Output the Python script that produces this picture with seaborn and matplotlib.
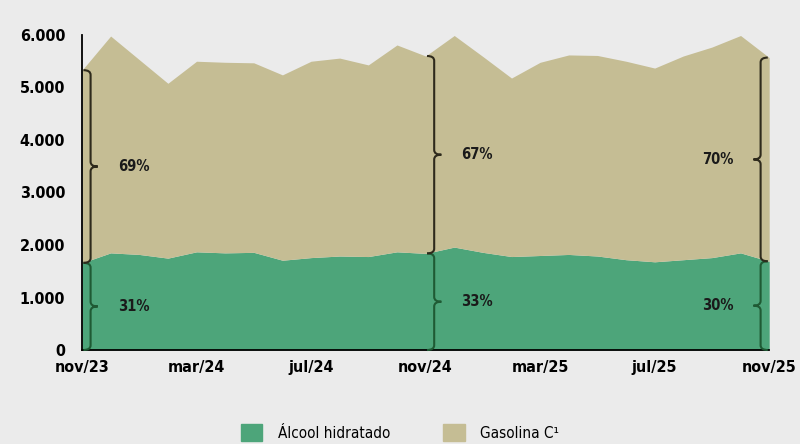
import numpy as np
import pandas as pd
import matplotlib
matplotlib.use("Agg")
import matplotlib.pyplot as plt
from matplotlib.path import Path
import matplotlib.patches as mpatches
import seaborn as sns

# monthly sales, nov/23 .. nov/25 (thousand m3)
months = ["nov/23", "dez/23", "jan/24", "fev/24", "mar/24", "abr/24", "mai/24",
          "jun/24", "jul/24", "ago/24", "set/24", "out/24", "nov/24", "dez/24",
          "jan/25", "fev/25", "mar/25", "abr/25", "mai/25", "jun/25", "jul/25",
          "ago/25", "set/25", "out/25", "nov/25"]
alcool = [1660, 1850, 1820, 1750, 1870, 1850, 1860, 1710, 1760, 1790, 1780, 1870,
          1840, 1960, 1860, 1780, 1800, 1820, 1790, 1720, 1680, 1720, 1760, 1850, 1690]
total = [5330, 5980, 5530, 5080, 5500, 5480, 5470, 5240, 5500, 5560, 5430, 5810,
         5600, 5990, 5590, 5180, 5480, 5620, 5610, 5500, 5370, 5600, 5770, 5990, 5570]
gasolina = [t - a for t, a in zip(total, alcool)]

tick_pos = [0, 4, 8, 12, 16, 20, 24]
tick_labels = ["nov/23", "mar/24", "jul/24", "nov/24", "mar/25", "jul/25", "nov/25"]
yticks = [0, 1000, 2000, 3000, 4000, 5000, 6000]
ytick_labels = ["0", "1.000", "2.000", "3.000", "4.000", "5.000", "6.000"]

# months where the share braces are drawn
brace_idx = [0, 12, 24]

GREEN = "#4DA57A"
TAN = "#C5BD94"
BG = "#EBEBEB"

sns.set_theme(style="white")
plt.rcParams["font.family"] = ["DejaVu Sans"]
plt.rcParams["font.stretch"] = "condensed"
plt.rcParams["text.color"] = "black"
plt.rcParams["xtick.color"] = "black"
plt.rcParams["ytick.color"] = "black"

fig = plt.figure(figsize=(8, 4.44), dpi=100, facecolor=BG)
ax = fig.add_axes([0.1025, 0.2117, 0.859, 0.7095], facecolor=BG)

x = np.arange(len(months))
ax.stackplot(x, alcool, gasolina, colors=[GREEN, TAN], linewidth=0)

ax.set_xlim(0, 24)
ax.set_ylim(0, 6000)
ax.set_xticks(tick_pos)
ax.set_xticklabels(tick_labels, fontsize=11.5, fontweight="bold")
ax.set_yticks(yticks)
ax.set_yticklabels(ytick_labels, fontsize=11.5, fontweight="bold")
ax.tick_params(axis="y", length=5, width=1.2, color="black", direction="out", pad=7)
ax.tick_params(axis="x", length=4, width=1.2, color="black", direction="out", pad=3)
sns.despine(ax=ax)
for s in ["left", "bottom"]:
    ax.spines[s].set_color("black")
    ax.spines[s].set_linewidth(1.3)


def brace(ax, x0, y0, y1, w, color, r=90):
    """Curly brace along x0 from y0 to y1, tip pointing by w (data units)."""
    ym = (y0 + y1) / 2
    xm = x0 + w / 2
    tip = x0 + w
    verts = [(x0, y0), (xm, y0), (xm, y0 + r), (xm, ym - r), (xm, ym), (tip, ym),
             (xm, ym), (xm, ym + r), (xm, y1 - r), (xm, y1), (x0, y1)]
    codes = [Path.MOVETO, Path.CURVE3, Path.CURVE3, Path.LINETO, Path.CURVE3,
             Path.CURVE3, Path.CURVE3, Path.CURVE3, Path.LINETO, Path.CURVE3,
             Path.CURVE3]
    ax.add_patch(mpatches.PathPatch(Path(verts, codes), fill=False, edgecolor=color,
                                    linewidth=1.5, clip_on=False, zorder=5))


for i in brace_idx:
    a, t = alcool[i], total[i]
    share_a = round(100 * a / t)
    share_g = 100 - share_a
    w = 0.5 if i < 24 else -0.5
    xb = i + (0.05 if i < 24 else -0.05)
    brace(ax, xb, 0, a, w, "#1F5A34")
    brace(ax, xb, a, t, w, "#2E2A1C")
    tx = xb + w + (0.7 if w > 0 else -0.7)
    ha = "left" if w > 0 else "right"
    ax.text(tx, a / 2, f"{share_a}%", ha=ha, va="center", fontsize=10.5,
            fontweight="bold", color="#1A1A1A")
    ax.text(tx, (a + t) / 2, f"{share_g}%", ha=ha, va="center", fontsize=10.5,
            fontweight="bold", color="#1A1A1A")

handles = [mpatches.Patch(color=GREEN, label="Álcool hidratado"),
           mpatches.Patch(color=TAN, label="Gasolina C¹")]
fig.legend(handles=handles, loc="lower center", bbox_to_anchor=(0.5, -0.025), ncol=2,
           frameon=False, handlelength=1.4, handleheight=1.4,
           columnspacing=3.5, handletextpad=1.0, prop={"size": 11, "stretch": "condensed"})

fig.savefig("out.png", dpi=100, facecolor=BG)
